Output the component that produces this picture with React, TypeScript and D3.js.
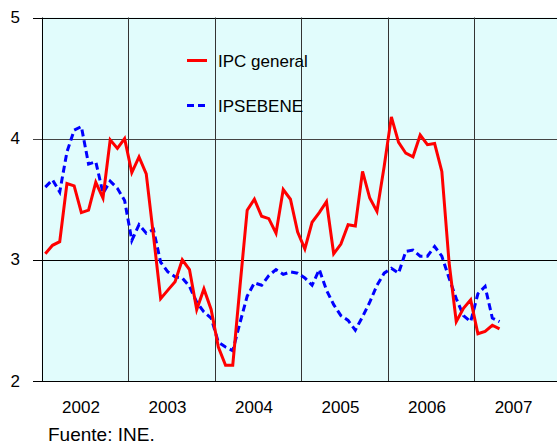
import * as d3 from "d3";

const YEARS = ["2002", "2003", "2004", "2005", "2006", "2007"];
const Y_TICKS = [2, 3, 4, 5];

// monthly, Jan 2002 .. Apr 2007
const IPC_GENERAL = [
  3.05, 3.12, 3.15, 3.63, 3.61, 3.39, 3.41, 3.64, 3.51, 3.99, 3.92, 4.0,
  3.72, 3.85, 3.71, 3.2, 2.68, 2.75, 2.82, 3.0, 2.92, 2.59, 2.76, 2.59,
  2.28, 2.13, 2.13, 2.78, 3.41, 3.5, 3.36, 3.34, 3.22, 3.58, 3.5, 3.23,
  3.09, 3.31, 3.39, 3.48, 3.05, 3.13, 3.29, 3.28, 3.73, 3.51, 3.4, 3.77,
  4.18, 3.97, 3.88, 3.85, 4.03, 3.95, 3.96, 3.73, 2.98, 2.49, 2.6, 2.67,
  2.39, 2.41, 2.46, 2.43,
];
const IPSEBENE = [
  3.6, 3.66, 3.56, 3.89, 4.07, 4.1, 3.79, 3.81, 3.55, 3.65, 3.59, 3.49,
  3.16, 3.29, 3.22, 3.25, 2.98, 2.9, 2.86, 2.85, 2.78, 2.65, 2.57, 2.52,
  2.32, 2.28, 2.25, 2.48, 2.7, 2.81, 2.79, 2.87, 2.92, 2.88, 2.9, 2.89,
  2.85, 2.79, 2.92, 2.75, 2.63, 2.54, 2.5, 2.42, 2.53, 2.65, 2.79, 2.89,
  2.93, 2.89, 3.07, 3.08, 3.03, 3.03, 3.11, 3.03, 2.85, 2.68, 2.54, 2.49,
  2.72, 2.78, 2.52, 2.49,
];

const WIDTH = 557;
const HEIGHT = 445;
const FONT = "'Liberation Sans', Arial, sans-serif";

const App = () => {
  const left = 41.7;
  const right = 560.8;
  const top = 17.5;
  const bottom = 381;

  const xScale = d3.scaleLinear().domain([0, YEARS.length * 12]).range([left, right]);
  const yScale = d3.scaleLinear().domain([2, 5]).range([bottom, top]);

  const line = d3
    .line<number>()
    .x((_, i) => xScale(i + 0.5))
    .y((d) => yScale(d));

  return (
    <div style={{ position: "absolute", left: 0, top: 0 }}>
      <svg width={WIDTH} height={HEIGHT} style={{ display: "block" }} fontFamily={FONT}>
        <rect x={left} y={top} width={right - left} height={bottom - top} fill="#e1fcfc" />

        {/* horizontal grid */}
        {Y_TICKS.map((t) => (
          <g key={t}>
            <line
              x1={33}
              x2={right}
              y1={Math.round(yScale(t)) + 0.5}
              y2={Math.round(yScale(t)) + 0.5}
              stroke={t === 4 ? "#444" : "#000"}
              strokeWidth={1}
            />
            <text x={20} y={yScale(t)} textAnchor="end" dominantBaseline="central" fontSize={17}>
              {t}
            </text>
          </g>
        ))}

        {/* year separators */}
        {YEARS.map((y, i) => (
          <g key={y}>
            <line
              x1={Math.round(xScale(i * 12)) + 0.5}
              x2={Math.round(xScale(i * 12)) + 0.5}
              y1={top}
              y2={bottom}
              stroke={i === 0 ? "#000" : "#333"}
              strokeWidth={1}
            />
            <text x={xScale(i * 12 + 6) - 4} y={413} textAnchor="middle" fontSize={17}>
              {y}
            </text>
          </g>
        ))}

        <path d={line(IPSEBENE) ?? ""} fill="none" stroke="#0000ff" strokeWidth={3} strokeDasharray="7 4" />
        <path d={line(IPC_GENERAL) ?? ""} fill="none" stroke="#ff0000" strokeWidth={3} strokeLinejoin="miter" />

        {/* legend */}
        <line x1={187} x2={207} y1={60.5} y2={60.5} stroke="#ff0000" strokeWidth={3} />
        <text x={218} y={67} fontSize={17}>
          IPC general
        </text>
        <line x1={187} x2={207} y1={105.5} y2={105.5} stroke="#0000ff" strokeWidth={3} strokeDasharray="7 4" />
        <text x={218} y={112} fontSize={17}>
          IPSEBENE
        </text>

        <text x={48} y={441} fontSize={19}>
          Fuente: INE.
        </text>
      </svg>
    </div>
  );
};

export default App;
